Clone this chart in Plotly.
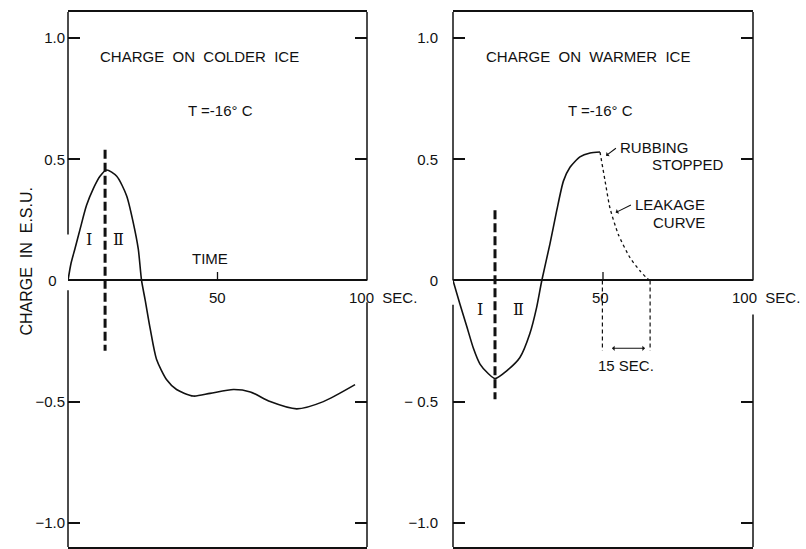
import plotly.graph_objects as go

# ---- data ----
cold_t = [0, 1, 2.3, 4, 6.2, 8.5, 10.7, 12.9, 16.3, 19.6, 21.8, 23.5, 24.6, 25.8, 27.5,
          29.6, 33, 36.3, 41.9, 47.5, 55.3, 61, 67.6, 76.5, 85.4, 96]
cold_q = [0, 0.07, 0.13, 0.21, 0.31, 0.38, 0.43, 0.456, 0.43, 0.35, 0.24, 0.13, 0.0, -0.08, -0.2,
          -0.325, -0.41, -0.45, -0.477, -0.466, -0.45, -0.46, -0.5, -0.53, -0.5, -0.43]

warm_t = [0, 2.3, 4.6, 6.8, 9, 11.8, 14, 17.9, 22.3, 25.6, 27.9, 29.6, 32.3, 34.6, 36.8,
          39, 42.3, 45.7, 49]
warm_q = [0, -0.097, -0.19, -0.28, -0.345, -0.385, -0.405, -0.373, -0.318, -0.22, -0.11, 0,
          0.15, 0.29, 0.41, 0.467, 0.51, 0.526, 0.53]

leak_t = [49, 50.7, 52.3, 55.1, 59, 62.3, 64.6, 65.7]
leak_q = [0.53, 0.41, 0.30, 0.19, 0.094, 0.04, 0.01, 0]

cold_split_t = 12.4
cold_split_q = [0.54, -0.29]
warm_split_t = 14
warm_split_q = [0.29, -0.49]
leak_marks_t = [49.8, 65.7]
leak_marks_q = [0, -0.29]

y_ticks = [-1.0, -0.5, 0, 0.5, 1.0]
y_text_left = ["\u22121.0", "\u22120.5", "0\u00a0\u00a0", "0.5", "1.0"]
y_text_right = ["\u22121.0", "\u2212 0.5", "0", "0.5", "1.0"]

X_RANGE = [0, 100]
Y_RANGE = [-1.10, 1.108]
FONT = "Liberation Sans"
INK = "#111111"

fig = go.Figure()

fig.add_trace(go.Scatter(x=cold_t, y=cold_q, mode="lines", xaxis="x", yaxis="y",
                         line=dict(color=INK, width=1.6, shape="spline", smoothing=0.7),
                         showlegend=False, hoverinfo="skip"))
fig.add_trace(go.Scatter(x=[cold_split_t] * 2, y=cold_split_q, mode="lines", xaxis="x", yaxis="y",
                         line=dict(color=INK, width=3, dash="9px,4px"),
                         showlegend=False, hoverinfo="skip"))

fig.add_trace(go.Scatter(x=warm_t, y=warm_q, mode="lines", xaxis="x2", yaxis="y2",
                         line=dict(color=INK, width=1.6, shape="spline", smoothing=0.6),
                         showlegend=False, hoverinfo="skip"))
fig.add_trace(go.Scatter(x=leak_t, y=leak_q, mode="lines", xaxis="x2", yaxis="y2",
                         line=dict(color=INK, width=1.3, dash="dot", shape="spline", smoothing=0.6),
                         showlegend=False, hoverinfo="skip"))
fig.add_trace(go.Scatter(x=[warm_split_t] * 2, y=warm_split_q, mode="lines", xaxis="x2", yaxis="y2",
                         line=dict(color=INK, width=3, dash="9px,4px"),
                         showlegend=False, hoverinfo="skip"))
for t in leak_marks_t:
    fig.add_trace(go.Scatter(x=[t, t], y=leak_marks_q, mode="lines", xaxis="x2", yaxis="y2",
                             line=dict(color=INK, width=1.2, dash="4px,3px"),
                             showlegend=False, hoverinfo="skip"))

ax_common = dict(range=X_RANGE, showgrid=False, zeroline=False, showline=True, mirror=True,
                 linecolor=INK, linewidth=1.5, showticklabels=False, ticks="", automargin=False)
ay_common = dict(range=Y_RANGE, showgrid=False, zeroline=True, zerolinecolor=INK, zerolinewidth=1.5,
                 showline=False, ticks="inside", ticklen=12, tickwidth=1.5, tickcolor=INK,
                 mirror="ticks", tickvals=y_ticks, automargin=False,
                 tickfont=dict(family=FONT, size=15, color=INK))

fig.update_layout(
    width=806, height=549,
    margin=dict(l=0, r=0, t=0, b=0, autoexpand=False),
    paper_bgcolor="white", plot_bgcolor="white",
    xaxis=dict(domain=[68 / 806, 367 / 806], anchor="y", **ax_common),
    yaxis=dict(domain=[1 - 547 / 549, 1 - 12 / 549], anchor="x", ticktext=y_text_left,
               ticklabelstandoff=2, **ay_common),
    xaxis2=dict(domain=[453 / 806, 753 / 806], anchor="y2", **ax_common),
    yaxis2=dict(domain=[1 - 547 / 549, 1 - 12 / 549], anchor="x2", ticktext=y_text_right,
                ticklabelstandoff=14, **ay_common),
)

shapes = []
def vseg(xr, yr, xd, y0, y1):
    shapes.append(dict(type="line", xref=xr, yref=yr, x0=xd, x1=xd, y0=y0, y1=y1,
                       line=dict(color=INK, width=1.5)))

# frame verticals with gaps around the zero line
vseg("x domain", "y", 0, Y_RANGE[1], 0.19)
vseg("x domain", "y", 0, -0.04, Y_RANGE[0])
vseg("x domain", "y", 1, Y_RANGE[1], 0)
vseg("x domain", "y", 1, -0.09, Y_RANGE[0])
vseg("x2 domain", "y2", 0, Y_RANGE[1], 0)
vseg("x2 domain", "y2", 0, -0.10, Y_RANGE[0])
vseg("x2 domain", "y2", 1, Y_RANGE[1], 0)
vseg("x2 domain", "y2", 1, -0.14, Y_RANGE[0])
# small x ticks at 50 on the zero line
for xr, yr in [("x", "y"), ("x2", "y2")]:
    shapes.append(dict(type="line", xref=xr, yref=yr, x0=50, x1=50, y0=0, y1=0.035,
                       line=dict(color=INK, width=1.3)))
fig.update_layout(shapes=shapes)

def txt(text, x, y, xr="x", yr="y", size=15, family=FONT, **kw):
    d = dict(text=text, x=x, y=y, xref=xr, yref=yr, showarrow=False,
             font=dict(family=family, size=size, color=INK))
    d.update(kw)
    fig.add_annotation(**d)

# left panel texts
txt("CHARGE  ON  COLDER  ICE", 44, 0.925)
txt("T =-16\u00b0 C", 51, 0.70)
txt("TIME", 47.5, 0.09)
txt("\u2160", 7.1, 0.17, family="DejaVu Serif", size=16)
txt("\u2161", 16.8, 0.17, family="DejaVu Serif", size=16)
txt("50", 50, -0.07)
txt("100  SEC.", 100, -0.07, xanchor="left", xshift=-20)

# right panel texts
txt("CHARGE  ON  WARMER  ICE", 45, 0.925, "x2", "y2")
txt("T =-16\u00b0 C", 49, 0.70, "x2", "y2")
txt("RUBBING", 55, 0.55, "x2", "y2", xanchor="left")
txt("STOPPED", 91, 0.48, "x2", "y2", xanchor="right")
txt("LEAKAGE", 60, 0.315, "x2", "y2", xanchor="left")
txt("CURVE", 84.5, 0.24, "x2", "y2", xanchor="right")
txt("\u2160", 9, -0.118, "x2", "y2", family="DejaVu Serif", size=16)
txt("\u2161", 21.8, -0.118, "x2", "y2", family="DejaVu Serif", size=16)
txt("50", 49, -0.07, "x2", "y2")
txt("100  SEC.", 100, -0.07, "x2", "y2", xanchor="left", xshift=-23)
txt("15 SEC.", 57.8, -0.35, "x2", "y2")

# callout arrows
fig.add_annotation(x=51, y=0.515, ax=54.8, ay=0.55, xref="x2", yref="y2", axref="x2", ayref="y2",
                   text="", showarrow=True, arrowhead=1, arrowsize=0.8, arrowwidth=1.1, arrowcolor=INK)
fig.add_annotation(x=54.2, y=0.28, ax=59.8, ay=0.315, xref="x2", yref="y2", axref="x2", ayref="y2",
                   text="", showarrow=True, arrowhead=1, arrowsize=0.8, arrowwidth=1.1, arrowcolor=INK)
fig.add_annotation(x=64, y=-0.28, ax=52.5, ay=-0.28, xref="x2", yref="y2", axref="x2", ayref="y2",
                   text="", showarrow=True, arrowhead=1, arrowside="end+start", arrowsize=0.8,
                   arrowwidth=1.1, arrowcolor=INK)

# y-axis title
fig.add_annotation(text="CHARGE  IN  E.S.U.", x=15 / 806, y=1 - 262 / 549, xref="paper", yref="paper",
                   showarrow=False, textangle=-90, font=dict(family=FONT, size=16, color=INK))

fig.write_html("out.html", config={"displayModeBar": False},
               post_script="document.body.style.margin='0';document.body.style.overflow='hidden';")
